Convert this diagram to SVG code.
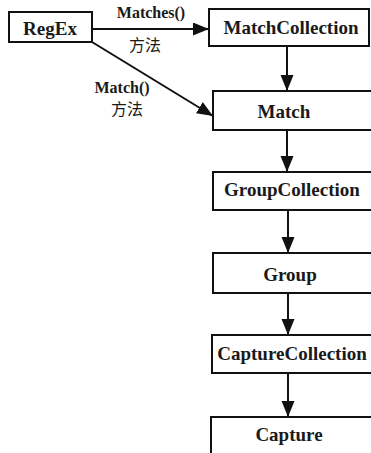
<svg xmlns="http://www.w3.org/2000/svg" width="371" height="453" viewBox="0 0 371 453">
<style>
.box{fill:#fff;stroke:#111;stroke-width:2}
.lbl{font-family:"Liberation Serif","Times New Roman",serif;font-size:19px;font-weight:bold;fill:#1a1a1a;text-anchor:middle}
.edge{font-family:"Liberation Serif","Noto Sans CJK SC",serif;font-size:16px;font-weight:bold;fill:#1a1a1a;text-anchor:middle}
.cn{font-family:"Noto Sans CJK SC","Noto Sans CJK JP",sans-serif;font-size:16px;fill:#1a1a1a;text-anchor:middle}
.conn{stroke:#111;stroke-width:2;fill:none;marker-end:url(#ah)}
</style>
<defs>
<marker id="ah" markerUnits="userSpaceOnUse" markerWidth="18" markerHeight="14" refX="16" refY="6.5" orient="auto">
<path d="M0,0 L16,6.5 L0,13 Z" fill="#111"/>
</marker>
</defs>
<rect width="371" height="453" fill="#fff"/>
<g id="RegEx"><rect class="box" x="9" y="12" width="83" height="30"/><text class="lbl" x="50" y="35">RegEx</text></g>
<g id="MatchCollection"><rect class="box" x="209" y="9" width="160" height="37"/><text class="lbl" x="291" y="34">MatchCollection</text></g>
<g id="Match"><rect class="box" x="213" y="91" width="170" height="39"/><text class="lbl" x="284" y="118">Match</text></g>
<g id="GroupCollection"><rect class="box" x="213" y="172" width="170" height="38"/><text class="lbl" x="292" y="196">GroupCollection</text></g>
<g id="Group"><rect class="box" x="213" y="253" width="170" height="40"/><text class="lbl" x="290" y="281">Group</text></g>
<g id="CaptureCollection"><rect class="box" x="212" y="335" width="170" height="38"/><text class="lbl" x="292" y="360">CaptureCollection</text></g>
<g id="Capture"><rect class="box" x="211" y="417" width="170" height="50"/><text class="lbl" x="289" y="441">Capture</text></g>
<g id="connectors">
<line class="conn" x1="92" y1="29" x2="209" y2="29"/>
<line class="conn" x1="92" y1="42" x2="213" y2="116"/>
<line class="conn" x1="287" y1="46" x2="287" y2="91"/>
<line class="conn" x1="287" y1="130" x2="287" y2="172"/>
<line class="conn" x1="288" y1="210" x2="288" y2="253"/>
<line class="conn" x1="288" y1="293" x2="288" y2="335"/>
<line class="conn" x1="288" y1="373" x2="288" y2="417"/>
<text class="edge" x="151" y="18">Matches()</text>
<text class="cn" x="145" y="51">方法</text>
<text class="edge" x="122" y="93">Match()</text>
<text class="cn" x="127" y="115">方法</text>
</g>
</svg>
